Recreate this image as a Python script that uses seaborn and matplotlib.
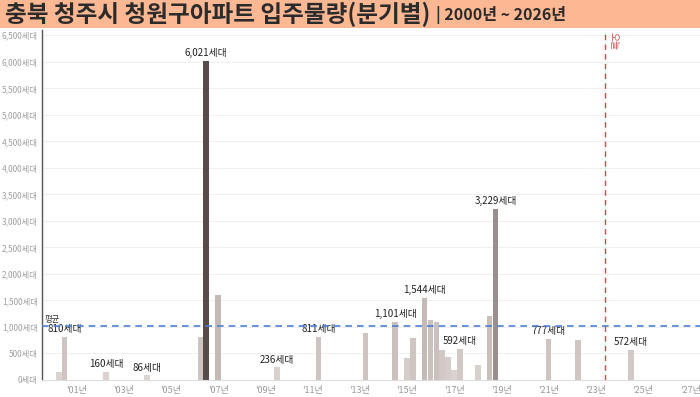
import numpy as np
import pandas as pd
import matplotlib
matplotlib.use("Agg")
import matplotlib.pyplot as plt
import matplotlib.colors as mcolors
from matplotlib.patches import Rectangle
import seaborn as sns

# quarterly move-in volume (세대)
years = [2000, 2000, 2002, 2004, 2006, 2006, 2007, 2009, 2011, 2013, 2014, 2015, 2015,
         2015, 2016, 2016, 2016, 2016, 2017, 2017, 2018, 2018, 2018, 2021, 2022, 2024]
quarters = [2, 3, 2, 1, 2, 3, 1, 3, 2, 2, 3, 1, 2,
            4, 1, 2, 3, 4, 1, 2, 1, 3, 4, 1, 2, 3]
units = [150, 810, 160, 86, 810, 6021, 1600, 236, 811, 895, 1101, 420, 790,
         1544, 1140, 1100, 575, 425, 190, 592, 275, 1205, 3229, 777, 750, 572]
show_label = [False, True, True, True, False, True, False, True, True, False, True, False, False,
              True, False, False, False, False, False, True, False, False, True, True, False, True]

tick_years = list(range(2001, 2028, 2))
y_ticks = list(range(0, 6501, 500))
today_pos = 2023.40

df = pd.DataFrame({"year": years, "quarter": quarters, "units": units, "label": show_label})
df["pos"] = df["year"] + (df["quarter"] - 1) / 4
mean_units = df["units"].mean()

sns.set_style("white")
plt.rcParams["font.family"] = ["Noto Sans CJK KR", "DejaVu Sans"]

fig = plt.figure(figsize=(7, 3.97), dpi=100)
ax = fig.add_axes([42 / 700, 17 / 397, 658 / 700, 350 / 397])

sns.barplot(data=df, x="pos", y="units", native_scale=True, width=0.96,
            color="#cfc6c2", ax=ax, errorbar=None)

# colour by value like the original gradient
cmap = mcolors.LinearSegmentedColormap.from_list(
    "taupe", [(0, "#ddd6d3"), (0.12, "#cfc6c2"), (0.26, "#c4bab6"),
              (0.54, "#9a8f8c"), (1, "#574c4a")])
norm = mcolors.Normalize(0, df["units"].max())
for bar, v in zip(ax.patches, df["units"]):
    bar.set_facecolor(cmap(norm(v)))
    bar.set_edgecolor("none")

# value labels
for _, r in df[df["label"]].iterrows():
    ax.annotate(f"{r['units']:,}세대", (r["pos"], r["units"]), xytext=(0, 2),
                textcoords="offset points", ha="center", va="bottom",
                fontsize=7, color="#222222")

# mean line
ax.axhline(mean_units, color="#4a80d8", lw=1.2, ls=(0, (4, 3)), zorder=3)
ax.annotate("평균", (1999.54, mean_units), xytext=(2, 2), textcoords="offset points",
            ha="left", va="bottom", fontsize=6, color="#333333")

# today line
ax.axvline(today_pos, color="#d0454a", lw=1.0, ls=(0, (4, 3)), zorder=3)
ax.text(today_pos + 0.15, 6560, "오늘", rotation=270, ha="left", va="top",
        fontsize=7, color="#d0454a")

ax.set_xlim(1999.54, 2027.42)
ax.set_ylim(0, 6600)
ax.set_xticks(tick_years)
ax.set_xticklabels([f"'{y % 100:02d}년" for y in tick_years], fontsize=6.5, color="#999999")
ax.set_yticks(y_ticks)
ax.set_yticklabels([f"{v:,}세대" for v in y_ticks], fontsize=6, color="#a0a0a0")
ax.tick_params(axis="both", length=0, pad=4)
ax.tick_params(axis="y", pad=3)
ax.set_xlabel("")
ax.set_ylabel("")
ax.grid(axis="y", color="#f0f0f0", lw=0.7)
ax.set_axisbelow(True)
for s in ["top", "right"]:
    ax.spines[s].set_visible(False)
ax.spines["left"].set_color("#555555")
ax.spines["left"].set_linewidth(1.0)
ax.spines["bottom"].set_color("#dddddd")
ax.spines["bottom"].set_linewidth(0.8)

# title band
fig.patches.append(Rectangle((0, 1 - 28 / 397), 1, 28 / 397, transform=fig.transFigure,
                             facecolor="#fcb793", edgecolor="none", zorder=0))
t = fig.text(5 / 700, 1 - 14 / 397, "충북 청주시 청원구아파트 입주물량(분기별)",
             fontsize=17, fontweight="bold", color="#2b2b2b", va="center", ha="left")
fig.canvas.draw()
bb = t.get_window_extent()
fig.text((bb.x1 + 6) / 700, 1 - 15 / 397, "| 2000년 ~ 2026년", fontsize=11.5,
         fontweight="bold", color="#2b2b2b", va="center", ha="left")

fig.savefig("out.png", dpi=100)
